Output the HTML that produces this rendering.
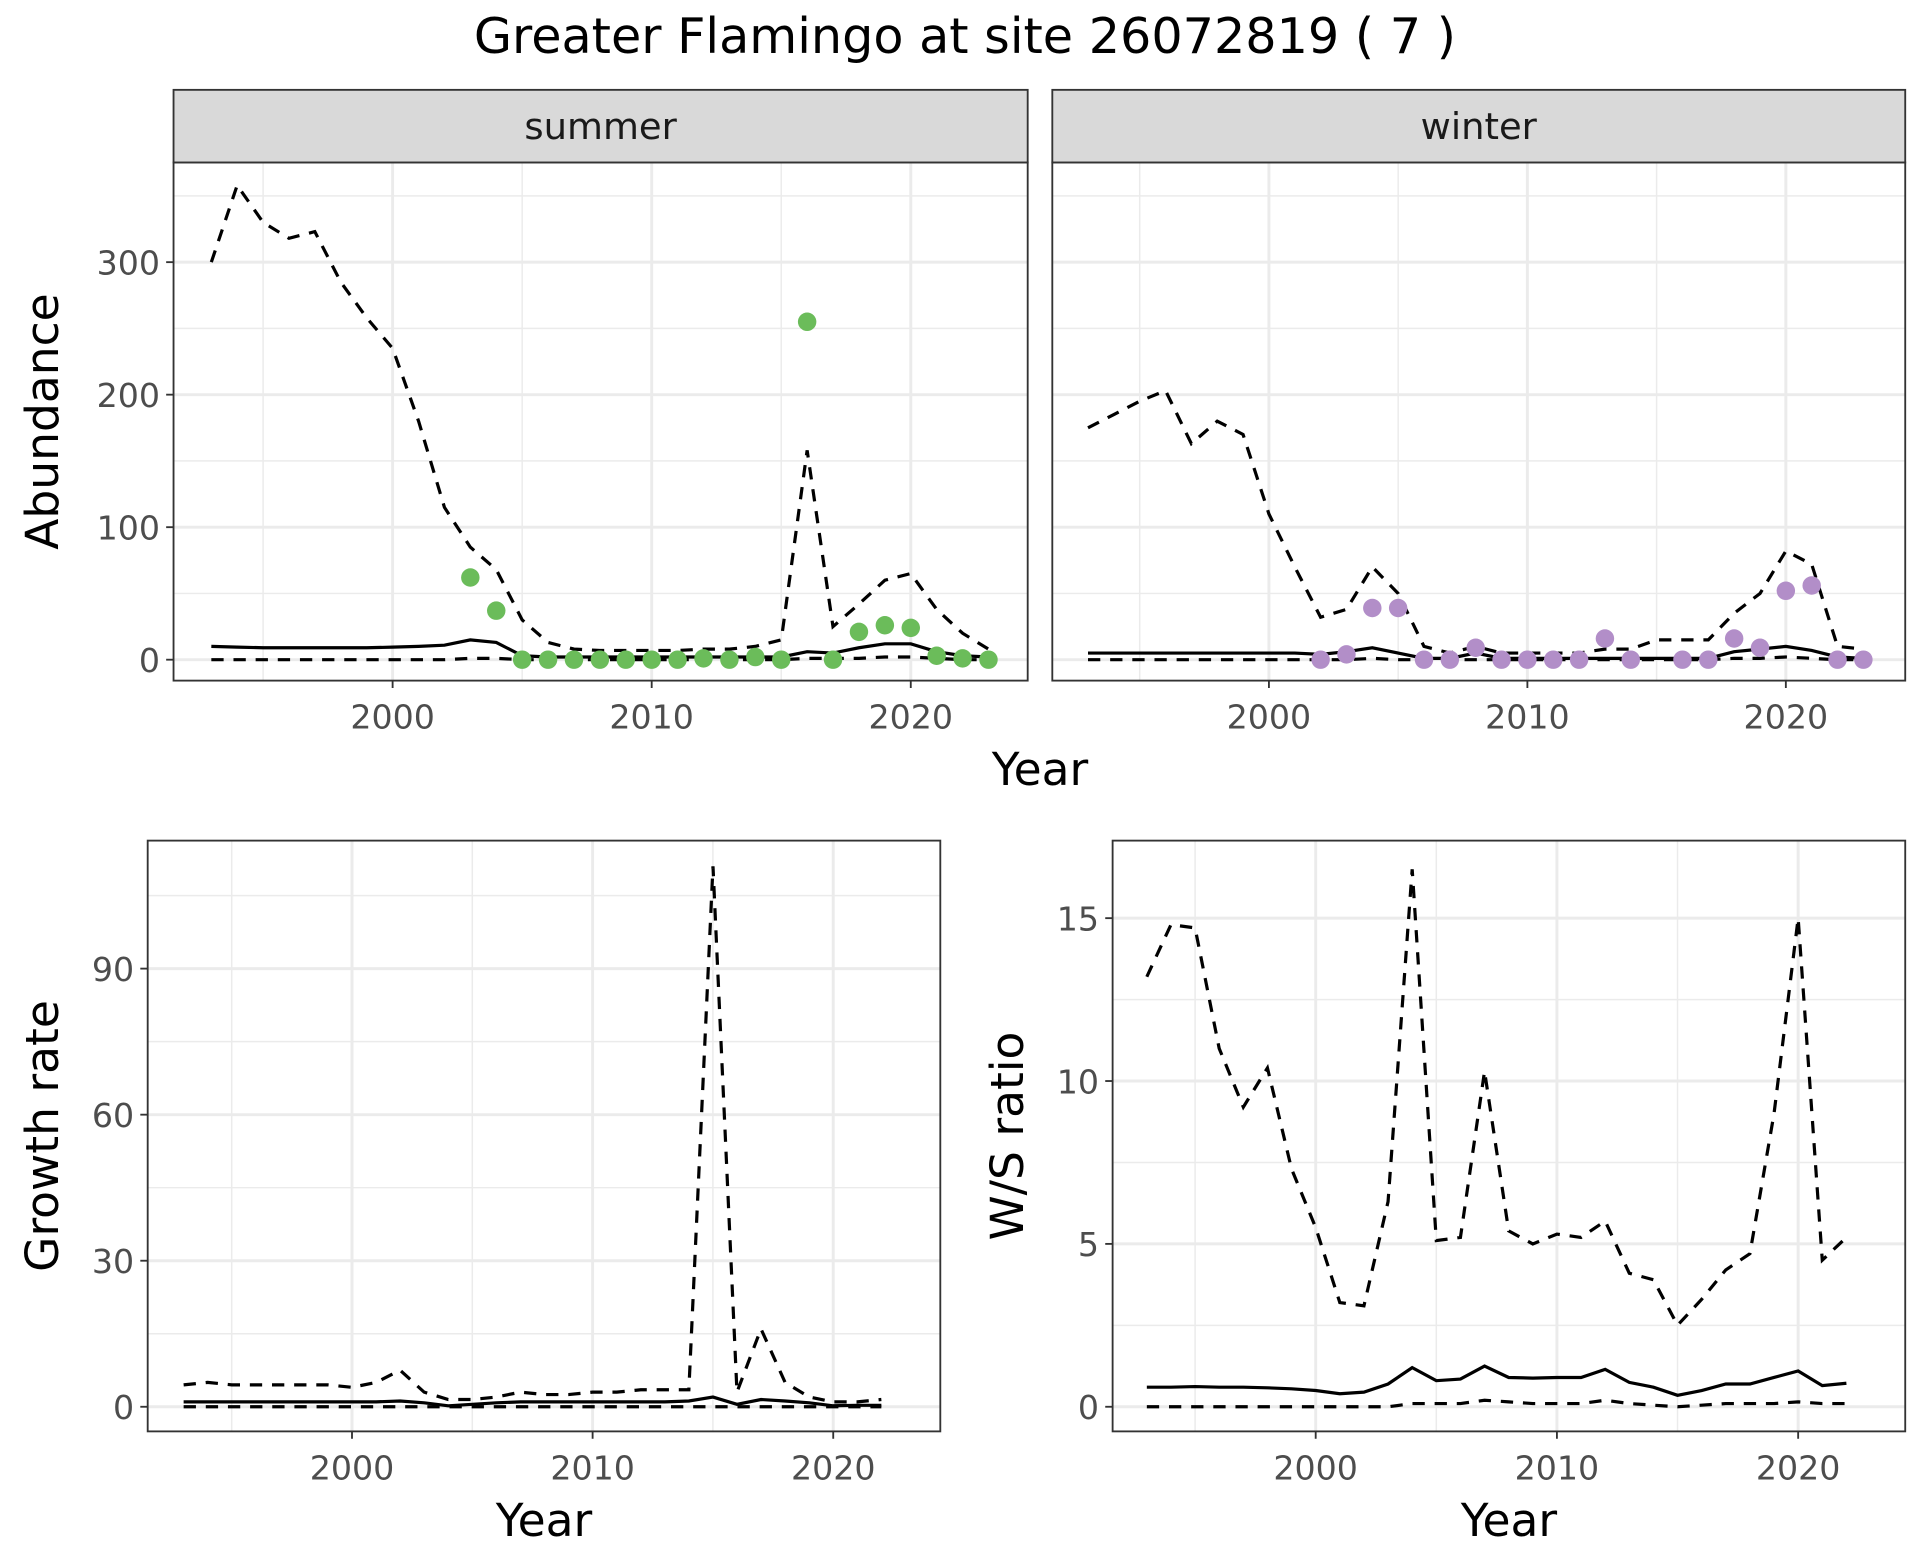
<!DOCTYPE html>
<html><head><meta charset="utf-8">
<style>
html,body{margin:0;padding:0;background:#fff;}
svg{display:block;font-family:"DejaVu Sans","Liberation Sans",sans-serif;}
</style></head>
<body>
<svg id="chart" width="1920" height="1560" viewBox="0 0 1560 1267.5" xmlns="http://www.w3.org/2000/svg">
<text x="784" y="43" font-size="40" text-anchor="middle" fill="#000">Greater Flamingo at site 26072819 ( 7 )</text>
</svg>
<script>
const years = [1993,1994,1995,1996,1997,1998,1999,2000,2001,2002,2003,2004,2005,2006,2007,2008,2009,2010,2011,2012,2013,2014,2015,2016,2017,2018,2019,2020,2021,2022,2023];
const summerUpper = [300,358,330,318,323,285,258,235,180,115,85,68,30,13,8,7,7,7,7,8,8,10,15,158,25,42,60,65,38,20,8];
const summerMid = [10,9.5,9,9,9,9,9,9.5,10,11,15,13,3,2,2,2,2,2,2,2,2,2,2,6,5,9,12,12,6,3,2];
const summerLower = [0,0,0,0,0,0,0,0,0,0,1,1,0,0,0,0,0,0,0,0,0,0,0,1,1,1,2,2,1,0,0];
const summerPtYears = [2003,2004,2005,2006,2007,2008,2009,2010,2011,2012,2013,2014,2015,2016,2017,2018,2019,2020,2021,2022,2023];
const summerPts = [62,37,0,0,0,0,0,0,0,1,0,2,0,255,0,21,26,24,3,1,0];
const winterUpper = [175,185,195,203,163,180,170,110,70,32,38,70,50,10,5,10,5,5,5,5,8,8,15,15,15,35,50,82,72,10,8];
const winterMid = [5,5,5,5,5,5,5,5,5,4,6,9,5,1,1,5,1,1,1,1,1,1,1,1,1,6,8,10,7,2,1];
const winterLower = [0,0,0,0,0,0,0,0,0,0,0,1,0,0,0,0,0,0,0,0,0,0,0,0,0,1,1,2,1,0,0];
const winterPtYears = [2002,2003,2004,2005,2006,2007,2008,2009,2010,2011,2012,2013,2014,2016,2017,2018,2019,2020,2021,2022,2023];
const winterPts = [0,4,39,39,0,0,9,0,0,0,0,16,0,0,0,16,9,52,56,0,0];
const gYears = years.slice(0,30);
const growthUpper = [4.5,5,4.5,4.5,4.5,4.5,4.5,4,5,7.5,3,1.5,1.5,2,3,2.5,2.5,3,3,3.5,3.5,3.5,111,3,16,5,2,1,1,1.5];
const growthMid = [1,1,1,1,1,1,1,1,1,1.2,0.8,0.2,0.5,0.8,1,1,1,1,1,1,1,1.2,2,0.5,1.5,1.2,0.8,0.2,0.3,0.3];
const growthLower = [0,0,0,0,0,0,0,0,0,0,0,0,0,0,0,0,0,0,0,0,0,0,0,0,0,0,0,0,0,0];
const wsUpper = [13.2,14.8,14.7,11,9.2,10.4,7.3,5.5,3.2,3.1,6.3,16.5,5.1,5.2,10.3,5.4,5,5.3,5.2,5.7,4.1,3.9,2.5,3.3,4.2,4.7,9,15,4.5,5.2];
const wsMid = [0.6,0.6,0.62,0.6,0.6,0.58,0.55,0.5,0.4,0.45,0.7,1.2,0.8,0.85,1.25,0.9,0.88,0.9,0.9,1.15,0.75,0.6,0.35,0.5,0.7,0.7,0.9,1.1,0.65,0.72];
const wsLower = [0,0,0,0,0,0,0,0,0,0,0,0.1,0.1,0.1,0.2,0.15,0.1,0.1,0.1,0.2,0.1,0.05,0,0.05,0.1,0.1,0.1,0.15,0.1,0.1];
const xTicks = [2000,2010,2020];
const abTicks = [0,100,200,300];
const grTicks = [0,30,60,90];
const wsTicks = [0,5,10,15];

const NS="http://www.w3.org/2000/svg";
const svg=document.getElementById('chart');
function el(tag,attrs,parent){const e=document.createElementNS(NS,tag);for(const k in attrs)e.setAttribute(k,attrs[k]);(parent||svg).appendChild(e);return e;}
function lin(d0,d1,r0,r1){return v=>r0+(v-d0)/(d1-d0)*(r1-r0);}

function panel(p){
  const g=el('g',{});
  
  
  const x=lin(2000,2020,p.x2000,p.x2020), y=lin(0,p.yref,p.y0,p.yrefPx);
  el('rect',{x:p.l,y:p.t,width:p.r-p.l,height:p.b-p.t,fill:'#fff'},g);
  for(let yr=1995;yr<=2025;yr+=10){const X=x(yr);if(X>p.l&&X<p.r)el('line',{x1:X,x2:X,y1:p.t,y2:p.b,stroke:'#ebebeb','stroke-width':1.2},g);}
  p.yticks.forEach(v=>{const m=v+(p.yticks[1]-p.yticks[0])/2;const Y=y(m);if(Y>p.t&&Y<p.b)el('line',{x1:p.l,x2:p.r,y1:Y,y2:Y,stroke:'#ebebeb','stroke-width':1.2},g);});
  xTicks.forEach(v=>{const X=x(v);el('line',{x1:X,x2:X,y1:p.t,y2:p.b,stroke:'#ebebeb','stroke-width':2.4},g);
    el('line',{x1:X,x2:X,y1:p.b,y2:p.b+6,stroke:'#333','stroke-width':1.5},g);
    const t=el('text',{x:X,y:p.b+39,'font-size':27,'text-anchor':'middle',fill:'#4d4d4d'},g);t.textContent=v;});
  p.yticks.forEach(v=>{const Y=y(v);el('line',{x1:p.l,x2:p.r,y1:Y,y2:Y,stroke:'#ebebeb','stroke-width':2.4},g);
    if(p.ylabels){el('line',{x1:p.l-6,x2:p.l,y1:Y,y2:Y,stroke:'#333','stroke-width':1.5},g);
    const t=el('text',{x:p.l-11,y:Y+10,'font-size':27,'text-anchor':'end',fill:'#4d4d4d'},g);t.textContent=v;}});
  const cp=el('clipPath',{id:'clip-'+p.name},g);el('rect',{x:p.l,y:p.t,width:p.r-p.l,height:p.b-p.t},cp);
  p.series.forEach(s=>{
    const d=s.vals.map((v,i)=>(i?'L':'M')+x(s.xs[i]).toFixed(1)+','+y(v).toFixed(1)).join('');
    const path=el('path',{d:d,fill:'none',stroke:'#000','stroke-width':2.6,'stroke-dasharray':s.dash?'10,8':'none','clip-path':'url(#clip-'+p.name+')'},g);
    
    
  });
  if(p.pts){p.pts.vals.forEach((v,i)=>{const c=el('circle',{cx:x(p.pts.xs[i]),cy:y(v),r:7.5,fill:p.pts.color},g);
    
    });}
  el('rect',{x:p.l,y:p.t,width:p.r-p.l,height:p.b-p.t,fill:'none',stroke:'#333','stroke-width':1.5},g);
  if(p.strip){const sr=el('rect',{x:p.l,y:73,width:p.r-p.l,height:p.t-73,fill:'#d9d9d9',stroke:'#333','stroke-width':1.5},g);
    
    const t=el('text',{x:(p.l+p.r)/2,y:113,'font-size':30,'text-anchor':'middle',fill:'#1a1a1a'},g);t.textContent=p.strip;}
  if(p.xtitle){const t=el('text',{x:(p.l+p.r)/2,y:p.b+85,'font-size':37,'text-anchor':'middle',fill:'#000'},g);t.textContent=p.xtitle;}
  if(p.ytitle){const cy=(p.t+p.b)/2;const t=el('text',{x:p.ytx,y:cy,'font-size':37,'text-anchor':'middle',fill:'#000',transform:'rotate(-90 '+p.ytx+' '+cy+')'},g);t.textContent=p.ytitle;}
}
panel({name:'summer-panel',l:141,r:835,t:132,b:553,x2000:319,x2020:740,y0:536,yref:300,yrefPx:213,yticks:abTicks,ylabels:true,strip:'summer',ytitle:'Abundance',ytx:47,
  series:[{name:'summer-upper',xs:years,vals:summerUpper,dash:true},{name:'summer-mid',xs:years,vals:summerMid},{name:'summer-lower',xs:years,vals:summerLower,dash:true}],
  pts:{xs:summerPtYears,vals:summerPts,color:'#6bbc5a'}});
panel({name:'winter-panel',l:855,r:1548,t:132,b:553,x2000:1031,x2020:1451,y0:536,yref:300,yrefPx:213,yticks:abTicks,ylabels:false,strip:'winter',
  series:[{name:'winter-upper',xs:years,vals:winterUpper,dash:true},{name:'winter-mid',xs:years,vals:winterMid},{name:'winter-lower',xs:years,vals:winterLower,dash:true}],
  pts:{xs:winterPtYears,vals:winterPts,color:'#b28ec8'}});
panel({name:'growth-panel',l:120,r:764,t:683,b:1163,x2000:286,x2020:677,y0:1143,yref:90,yrefPx:787,yticks:grTicks,ylabels:true,xtitle:'Year',ytitle:'Growth rate',ytx:47,
  series:[{name:'growth-upper',xs:gYears,vals:growthUpper,dash:true},{name:'growth-mid',xs:gYears,vals:growthMid},{name:'growth-lower',xs:gYears,vals:growthLower,dash:true}]});
panel({name:'ws-ratio-panel',l:904,r:1548,t:683,b:1163,x2000:1069,x2020:1461,y0:1143,yref:15,yrefPx:746,yticks:wsTicks,ylabels:true,xtitle:'Year',ytitle:'W/S ratio',ytx:831,
  series:[{name:'ws-upper',xs:gYears,vals:wsUpper,dash:true},{name:'ws-mid',xs:gYears,vals:wsMid},{name:'ws-lower',xs:gYears,vals:wsLower,dash:true}]});
const yt=el('text',{x:845,y:638,'font-size':37,'text-anchor':'middle',fill:'#000'});
yt.textContent='Year';


</script>
</body></html>
